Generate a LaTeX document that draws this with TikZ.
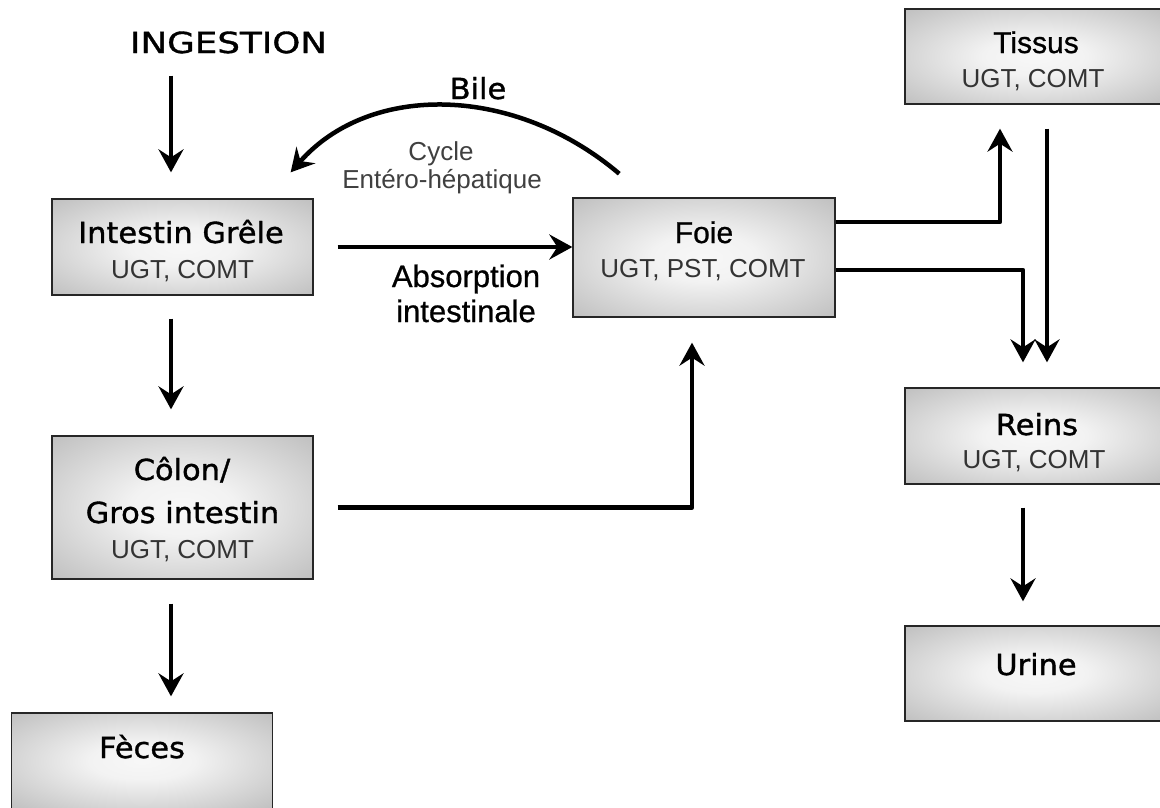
\documentclass[tikz,border=0pt]{standalone}
\usepackage{fontspec}
\setmainfont{Liberation Sans}
\newfontfamily\comicf[FakeStretch=1.05,FakeBold=1.2]{DejaVu Sans}
\newfontfamily\comicwide[FakeStretch=1.23,FakeBold=1.2]{DejaVu Sans}
\newfontfamily\arialm[FakeBold=0.8]{Liberation Sans}
\usetikzlibrary{arrows.meta,calc}
\pgfdeclareradialshading{boxshade}{\pgfpoint{0bp}{0bp}}{color(0bp)=(black!3); color(10bp)=(black!5); color(42bp)=(black!30); color(50bp)=(black!34); color(72bp)=(black!37)}
\tikzset{
  box/.style={draw=black!85, line width=1.3pt, shading=boxshade, minimum width=261pt, minimum height=96pt, inner sep=0pt},
  ttl/.style={font=\comicf\fontsize{29}{34}\selectfont, anchor=base, inner sep=0pt},
  ttla/.style={font=\arialm\fontsize{30}{34}\selectfont, anchor=base, inner sep=0pt},
  sub/.style={font=\fontsize{26}{30}\selectfont, text=black!80, anchor=base, inner sep=0pt},
  lbl/.style={font=\fontsize{26}{30}\selectfont, text=black!75, anchor=base, inner sep=0pt},
  lblb/.style={font=\arialm\fontsize{31}{35}\selectfont, anchor=base, inner sep=0pt},
  arr/.style={line width=4.5pt, -{Stealth[length=23pt,width=25pt,inset=8pt]}}
}
\begin{document}
\begin{tikzpicture}[x=1pt,y=-1pt]
\useasboundingbox (0,0) rectangle (1160,807);
\fill[white] (0,0) rectangle (1160,807);
% boxes
\node[box] (ig) at (182.5,247) {};
\node[box, minimum height=143pt] (colon) at (182.5,507.5) {};
\node[box] (feces) at (142,761) {};
\node[box, minimum width=262pt, minimum height=119pt] (foie) at (704,257.5) {};
\node[box, minimum width=260pt, minimum height=95pt] (tissus) at (1035,56.5) {};
\node[box, minimum width=260pt] (reins) at (1035,436) {};
\node[box, minimum width=260pt, minimum height=95pt] (urine) at (1035,673.5) {};
% texts
\node[font=\comicwide\fontsize{29}{34}\selectfont, anchor=base, inner sep=0pt] (ing) at (228.5,53) {INGESTION};
\node[ttl] (igT) at (181,243) {Intestin Grêle};
\node[sub] (igS) at (182.5,278) {UGT, COMT};
\node[ttl] (colT1) at (182,480) {Côlon/};
\node[ttl] (colT2) at (182.5,523) {Gros intestin};
\node[sub] (colS) at (182.5,558) {UGT, COMT};
\node[ttl] (fecT) at (142,758) {Fèces};
\node[ttla] (foieT) at (704,243) {Foie};
\node[sub] (foieS) at (703,277) {UGT, PST, COMT};
\node[ttla] (tisT) at (1036,53) {Tissus};
\node[sub] (tisS) at (1033,87) {UGT, COMT};
\node[ttl] (reiT) at (1037,435) {Reins};
\node[sub] (reiS) at (1034,468) {UGT, COMT};
\node[ttl] (uriT) at (1036,675) {Urine};
\node[ttl] (bile) at (478,99) {Bile};
\node[lbl] (cyc1) at (441,160) {Cycle};
\node[lbl] (cyc2) at (442,188) {Entéro-hépatique};
\node[lblb] (abs1) at (466,287) {Absorption};
\node[lblb] (abs2) at (466,322) {intestinale};
% guide coordinates
\coordinate (xl) at (171,0);
\coordinate (xf) at (692,0);
\coordinate (xt) at (1000,0);
\coordinate (xr) at (1023,0);
\coordinate (xs) at (1047,0);
\coordinate (y1) at (0,222);
\coordinate (y2) at (0,270);
% left column arrows
\draw[arr, shorten <=22pt, shorten >=26pt] (ing.south -| xl) -- (ig.north -| xl);
\draw[arr, shorten <=23pt, shorten >=26pt] (ig.south -| xl) -- (colon.north -| xl);
\draw[arr, shorten <=24pt, shorten >=16pt] (colon.south -| xl) -- (feces.north -| xl);
% absorption
\draw[arr, shorten <=24pt] (ig.east) -- (foie.west |- ig.east);
% colon to foie
\draw[arr, shorten <=24pt, shorten >=25pt, line join=round] (colon.east) -- (colon.east -| xf) -- (foie.south -| xf);
% bile
\draw[arr, shorten <=1pt] ([shift={(-84,-23)}]foie.north) .. controls (515,85) and (370,82) .. ([shift={(-23,-26)}]ig.north east);
% right side
\draw[arr, shorten >=24pt, line join=round] (foie.east |- y1) -- (y1 -| xt) -- (tissus.south -| xt);
\draw[arr, shorten >=25pt, line join=round] (foie.east |- y2) -- (y2 -| xr) -- (reins.north -| xr);
\draw[arr, shorten <=24pt, shorten >=25pt] (tissus.south -| xs) -- (reins.north -| xs);
\draw[arr, shorten <=23pt, shorten >=24pt] (reins.south -| xr) -- (urine.north -| xr);
\end{tikzpicture}
\end{document}
